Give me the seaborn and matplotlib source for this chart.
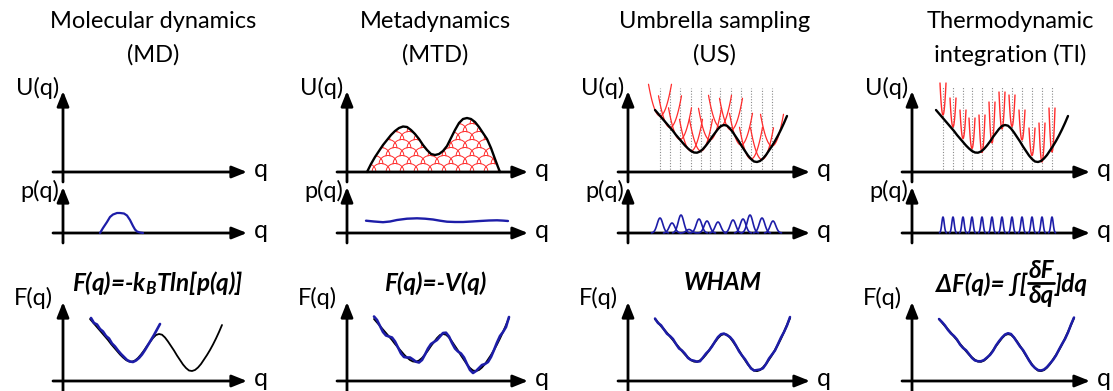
import numpy as np
import matplotlib
matplotlib.use("Agg")
import matplotlib.pyplot as plt
import seaborn as sns
from matplotlib.patches import Polygon
from matplotlib.lines import Line2D

sns.set_theme(style="white")
plt.rcParams["font.family"] = ["Lato", "DejaVu Sans"]
plt.rcParams["text.color"] = "black"
plt.rcParams["mathtext.fontset"] = "custom"
for _k in ("rm", "it", "bf", "sf"):
    plt.rcParams[f"mathtext.{_k}"] = "Lato:italic:bold"
plt.rcParams["mathtext.fallback"] = "stixsans"

# ---------------- data ----------------
title_line1 = ["Molecular dynamics", "Metadynamics", "Umbrella sampling", "Thermodynamic"]
title_line2 = ["(MD)", "(MTD)", "(US)", "integration (TI)"]
formulas = [r"F(q)=-k$_B$Tln[p(q)]", "F(q)=-V(q)", "WHAM"]
ti_formula_left = "ΔF(q)= ∫["
ti_formula_num = "δF"
ti_formula_den = "δq"
ti_formula_right = "]dq"
axis_labels = ["U(q)", "p(q)", "F(q)"]
q_label = "q"

# double-well free energy profile (q, F)
fq = [27, 30, 33, 36, 39, 42, 45, 48, 51, 54, 57, 60, 63, 66, 69, 72, 75, 78, 81, 84, 87, 90, 93,
      96, 99, 102, 105, 108, 111, 114, 117, 120, 123, 126, 129, 132, 135, 138, 141, 144, 147,
      150, 153, 156, 159, 162]
f_black = [62, 58.5, 55, 51.5, 48, 44.5, 41, 37, 33.5, 30, 26.5, 23.5, 21, 19.5, 19.3, 20.5, 23,
           26.5, 30.5, 35, 39, 43, 46, 47, 46.3, 43.5, 39.5, 35, 30.5, 25.5, 21, 16.5, 13, 10.5,
           10, 11, 13.5, 17, 21.5, 26, 31, 36.5, 42.5, 49, 56, 63]
mtd_f_blue = [64.5, 61, 55, 49, 45.5, 44.5, 43.5, 39.5, 33.5, 27.5, 24, 23.5, 23.5, 21.5, 19.3,
              18.5, 21, 26.5, 32.5, 37, 39, 41, 44.5, 48, 48.3, 44.5, 38, 32.5, 29.5, 27.5, 23.5,
              17, 11, 8, 10, 13, 16, 17, 19, 24, 31, 38.5, 45, 49, 54, 64]
us_f_blue = [62.5, 58, 55.8, 51.5, 47.2, 45, 42, 37, 32.5, 30.5, 27.3, 23, 21, 20.3, 19.3, 19.7,
             23.5, 27.5, 30.5, 34.5, 39.5, 44, 46.8, 47.5, 45.8, 44, 40.5, 35.5, 29.7, 25.5, 21.8,
             17, 12.5, 10.5, 11, 11.5, 12.7, 17, 22.5, 26.5, 30.5, 37, 43.5, 49, 55.5, 64]
ti_f_blue = [62, 59, 55.5, 51, 47.5, 45, 41.5, 36.5, 33, 30.8, 27, 23, 20.5, 19.8, 19.8, 21, 23.5,
             26, 30, 35.5, 39.8, 43.5, 46.5, 47.8, 47, 43.5, 39, 34.5, 31, 26, 20.5, 16, 13, 11,
             10.5, 11.5, 14, 17.5, 21, 25.5, 31.5, 37, 42, 48.5, 56.5, 63.5]

# MD: sampled part of the free energy and the probability
md_f_q = [28, 31, 34, 37, 40, 43, 46, 49, 52, 55, 58, 61, 64, 67, 70, 73, 76, 79, 82, 85, 88, 91,
          94, 97]
md_f_blue = [63, 58, 56.5, 52, 49.5, 45, 42.5, 37.5, 34.5, 30.5, 27, 24, 21, 19.5, 19, 20.5, 23,
             26.5, 31, 36, 41, 46, 51.5, 57]
md_p_q = [37, 40, 44, 47, 50, 54, 57, 61, 64, 67, 70, 72, 74, 77, 80]
md_p = [0, 5, 11, 16, 18.5, 20, 20, 19.5, 17.5, 13, 7, 3.5, 1.5, 0.5, 0]

# MTD: deposited bias (hills) and flat distribution
hill_q = [20, 24, 28, 32, 36, 40, 44, 48, 52, 56, 60, 64, 68, 72, 76, 80, 84, 88, 92, 96, 100,
          104, 108, 112, 116, 120, 124, 128, 132, 136, 140, 144, 148, 151, 153]
hill_v = [0, 8, 15, 21, 27, 32, 37, 41, 44, 45.5, 45, 42, 38, 33, 27, 22, 18, 17, 18, 21, 26, 34,
          42, 49, 53, 54, 53, 50, 45, 39, 33, 24, 13, 5, 0]
hill_x_even = [20, 34, 48, 62, 76, 90, 104, 118, 132, 146, 160]
hill_x_odd = [27, 41, 55, 69, 83, 97, 111, 125, 139, 153]
hill_rows = [0, 8, 16, 24, 32, 40, 48]
mtd_p_q = [19, 27, 36, 43, 50, 60, 70, 78, 86, 93, 100, 108, 116, 125, 133, 142, 150, 156, 161]
mtd_p = [12.3, 11.5, 10.8, 11.5, 13, 14.3, 14.7, 14.3, 13.5, 12.3, 11.3, 11, 11, 11.5, 12, 12.5,
         12.7, 12.4, 12]

# US: umbrella windows
us_centers = [32, 42, 52, 63, 73, 82, 92, 103, 113, 123, 134, 144]
us_vertex = [56, 44.5, 32.5, 21, 21, 32, 45, 42, 27, 13, 12.5, 26]
us_p_centers = [32, 44, 53, 61, 71, 79, 90, 105, 115, 122, 134, 145]
us_p_heights = [15, 10, 18, 3.5, 14, 12, 11, 13, 14, 18, 15, 12]

# TI: constrained windows
ti_centers = [31, 41, 51, 60, 70, 80, 90, 100, 110, 120, 130, 140]
ti_vertex = [57, 45, 33.5, 23.5, 19.5, 29, 43, 45.5, 32, 16.5, 10, 20]
ti_top = [89, 74, 62, 54, 57, 70, 80, 77, 62, 44, 49, 64]
ti_p_heights = [16, 16, 16, 16, 16, 16, 16, 16, 16, 16, 16, 16]

# ---------------- layout ----------------
W, H = 1113, 391
fig = plt.figure(figsize=(W / 100, H / 100), dpi=100)
fig.patch.set_facecolor("white")

BLUE = "#1d1da8"
RED = "#ff2b2b"
GRAY = "#8a8a8a"
AP = dict(arrowstyle="-|>,head_length=0.75,head_width=0.3", color="black", lw=2,
          shrinkA=0, shrinkB=0, mutation_scale=12)

col_x = [63, 347, 628, 912]
col_tip = [247, 528, 810, 1090]
rows = {"U": (172, 91), "p": (233, 187), "F": (381, 302)}
TITLE_FS, LABEL_FS, Q_FS, FORM_FS = 17, 17, 18, 17.5


def ftext(x, y, s, **kw):
    return fig.text(x / W, 1 - y / H, s, **kw)


def px_axes(yx, ay, xtip, ytip):
    left, right, top, bottom = yx - 16, xtip + 4, ytip - 22, ay + 14
    ax = fig.add_axes([left / W, 1 - bottom / H, (right - left) / W, (bottom - top) / H])
    ax.set_xlim(left - yx, right - yx)
    ax.set_ylim(ay - bottom, ay - top)
    ax.axis("off")
    ax.annotate("", xy=(xtip - yx, 0), xytext=(-10, 0), arrowprops=AP, annotation_clip=False)
    ax.annotate("", xy=(0, ay - ytip), xytext=(0, -10), arrowprops=AP, annotation_clip=False)
    return ax


def line(ax, x, y, color, lw, zorder=3):
    sns.lineplot(x=x, y=y, ax=ax, color=color, lw=lw, sort=False, estimator=None,
                 zorder=zorder, solid_capstyle="round", solid_joinstyle="round")


axes = {}
for c in range(4):
    for key, (ay, ytip) in rows.items():
        ax = px_axes(col_x[c], ay, col_tip[c], ytip)
        axes[(c, key)] = ax
        ftext(col_tip[c] + 7, ay + 5, q_label, fontsize=Q_FS, va="baseline", ha="left")
    ftext(col_x[c] - 4, 88, axis_labels[0], fontsize=LABEL_FS, ha="right", va="center")
    ftext(col_x[c] - 4, 191, axis_labels[1], fontsize=LABEL_FS, ha="right", va="center")
    ftext(col_x[c] - 10, 298, axis_labels[2], fontsize=LABEL_FS, ha="right", va="center")

title_cx = [153, 435, 715, 1010]
formula_cx = [158, 435, 723]
for c in range(4):
    ftext(title_cx[c], 22, title_line1[c], fontsize=TITLE_FS, ha="center", va="center")
    ftext(title_cx[c], 55, title_line2[c], fontsize=TITLE_FS, ha="center", va="center")
for c in range(3):
    ftext(formula_cx[c], 283, formulas[c], fontsize=FORM_FS, ha="center", va="center",
          fontweight="bold", style="italic")

# TI formula with a stacked fraction
fkw = dict(fontsize=FORM_FS, fontweight="bold", style="italic")
frac_cx, frac_y, frac_hw = 1041, 283, 13
ftext(frac_cx - frac_hw - 1, frac_y + 1, ti_formula_left, ha="right", va="center", **fkw)
ftext(frac_cx, frac_y - 1, ti_formula_num, ha="center", va="bottom", **fkw)
ftext(frac_cx, frac_y + 1, ti_formula_den, ha="center", va="top", **fkw)
ftext(frac_cx + frac_hw + 1, frac_y + 1, ti_formula_right, ha="left", va="center", **fkw)
fig.add_artist(Line2D([(frac_cx - frac_hw) / W, (frac_cx + frac_hw) / W],
                      [1 - frac_y / H, 1 - frac_y / H], color="black", lw=2,
                      transform=fig.transFigure))

# ---- MD ----
ax = axes[(0, "p")]
line(ax, md_p_q, md_p, BLUE, 1.6)
ax = axes[(0, "F")]
line(ax, fq[:-1], f_black[:-1], "black", 1.3)
line(ax, md_f_q, md_f_blue, BLUE, 1.9, zorder=4)

# ---- MTD ----
ax = axes[(1, "U")]
clip = Polygon(np.column_stack([hill_q, hill_v]), closed=True, transform=ax.transData,
               fc="none", ec="none")
ax.add_patch(clip)
dx = np.linspace(-9, 9, 37)
arc = np.sqrt(np.clip(1 - (dx / 9) ** 2, 0, None)) * 8.5
for r, base in enumerate(hill_rows):
    xs = hill_x_even if r % 2 == 0 else hill_x_odd
    for cx in xs:
        ln, = ax.plot(cx + dx, base + arc, color=RED, lw=0.7, zorder=2)
        ln.set_clip_path(clip)
line(ax, hill_q, hill_v, "black", 1.7)
ax = axes[(1, "p")]
line(ax, mtd_p_q, mtd_p, BLUE, 1.7)
ax = axes[(1, "F")]
line(ax, fq, f_black, "black", 1.3)
line(ax, fq, mtd_f_blue, BLUE, 1.9, zorder=4)

# ---- US ----
ax = axes[(2, "U")]
ax.vlines(us_centers, 0, 84, colors=GRAY, linestyles=(0, (1, 1.5)), lw=0.8, zorder=1)
dxu = np.linspace(-11.5, 11.5, 47)
for cx, v in zip(us_centers, us_vertex):
    ax.plot(cx + dxu, v + 0.24 * dxu ** 2, color=RED, lw=0.9, zorder=2)
line(ax, fq[:-1], f_black[:-1], "black", 1.7)
ax = axes[(2, "p")]
dxg = np.linspace(-8.5, 8.5, 41)
for cx, h in zip(us_p_centers, us_p_heights):
    ax.plot(cx + dxg, h * np.exp(-dxg ** 2 / (2 * 2.8 ** 2)), color=BLUE, lw=1.2, zorder=3)
ax = axes[(2, "F")]
line(ax, fq, f_black, "black", 1.5)
line(ax, fq, us_f_blue, BLUE, 1.8, zorder=4)

# ---- TI ----
ax = axes[(3, "U")]
ax.vlines(ti_centers, 0, 86, colors=GRAY, linestyles=(0, (1, 1.5)), lw=0.8, zorder=1)
dxt = np.linspace(-3, 3, 21)
for cx, v, t in zip(ti_centers, ti_vertex, ti_top):
    ax.plot(cx + dxt, v + (t - v) * (dxt / 3) ** 2, color=RED, lw=1.0, zorder=2)
line(ax, [q - 3 for q in fq[:-1]], f_black[:-1], "black", 1.7)
ax = axes[(3, "p")]
dxn = np.linspace(-3.5, 3.5, 29)
for cx, h in zip(ti_centers, ti_p_heights):
    ax.plot(cx + dxn, h * np.exp(-dxn ** 2 / (2 * 1.2 ** 2)), color=BLUE, lw=1.2, zorder=3)
ax = axes[(3, "F")]
line(ax, fq, f_black, "black", 1.5)
line(ax, fq, ti_f_blue, BLUE, 1.8, zorder=4)

fig.savefig("out.png", dpi=100, facecolor="white")
